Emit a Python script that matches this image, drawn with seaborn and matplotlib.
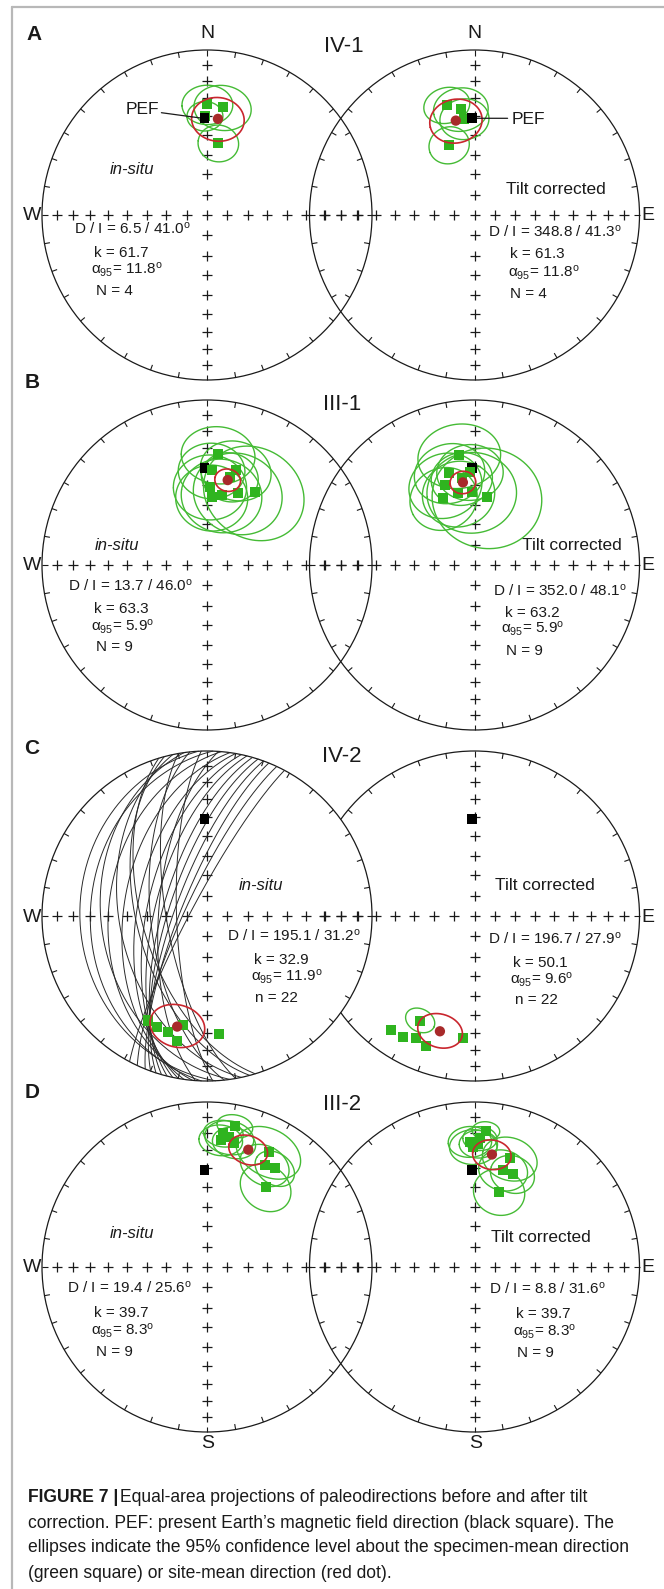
import numpy as np
import matplotlib
matplotlib.use("Agg")
import matplotlib.pyplot as plt
from matplotlib.patches import Circle
from matplotlib import font_manager
import seaborn as sns

sns.set_theme(style="white")
BASE_FONT = "Liberation Sans"
plt.rcParams["font.family"] = [BASE_FONT, "DejaVu Sans"]
plt.rcParams["mathtext.fontset"] = "custom"
plt.rcParams["mathtext.rm"] = BASE_FONT
plt.rcParams["mathtext.it"] = BASE_FONT + ":italic"
plt.rcParams["mathtext.bf"] = BASE_FONT + ":bold"

# ------------------------------------------------------------------ data
panels = ["A", "B", "C", "D"]
sites = ["IV-1", "III-1", "IV-2", "III-2"]

# site-mean directions, in situ and tilt corrected
mean_dec_is = [6.5, 13.7, 195.1, 19.4]
mean_inc_is = [41.0, 46.0, 31.2, 25.6]
mean_dec_tc = [348.8, 352.0, 196.7, 8.8]
mean_inc_tc = [41.3, 48.1, 27.9, 31.6]
k_is = [61.7, 63.3, 32.9, 39.7]
k_tc = [61.3, 63.2, 50.1, 39.7]
a95_is = [11.8, 5.9, 11.9, 8.3]
a95_tc = [11.8, 5.9, 9.6, 8.3]
n_symbol = ["N", "N", "n", "N"]
n_count = [4, 9, 22, 9]

# present Earth's field direction
pef_dec, pef_inc = 358.5, 41.0

# specimen-mean directions (dec, inc, alpha95; nan = no cone drawn)
iv1_is_dec = [0.2, 8.3, 9.0, 358.8]
iv1_is_inc = [33.4, 34.4, 53.7, 39.8]
iv1_is_a95 = [11.0, 12.5, 9.5, 8.0]
iv1_tc_dec = [345.8, 352.6, 340.0, 354.0]
iv1_tc_inc = [31.8, 35.5, 52.8, 41.0]
iv1_tc_a95 = [10.0, 12.0, 9.5, 11.0]

iii1_is_dec = [5.8, 2.8, 17.0, 2.2, 4.0, 11.9, 23.4, 33.2, 14.6]
iii1_is_inc = [33.0, 42.0, 39.6, 50.7, 56.2, 54.3, 50.5, 45.9, 44.0]
iii1_is_a95 = [16, 15, 16, 17, 17, 19, 21, 24, 13]
iii1_tc_dec = [352.0, 344.7, 357.2, 339.8, 334.9, 347.3, 357.8, 10.6, 351.6]
iii1_tc_inc = [33.1, 41.6, 42.8, 47.1, 53.2, 53.3, 53.3, 55.3, 45.9]
iii1_tc_a95 = [18, 16, 15, 17, 16, 17, 21, 26, 14]

iv2_is_dec = [209.3, 204.3, 198.5, 192.6, 193.4, 174.2]
iv2_is_inc = [28.2, 26.9, 27.0, 32.8, 23.3, 28.9]
iv2_is_a95 = [np.nan] * 6
iv2_tc_dec = [216.3, 210.5, 205.7, 207.5, 200.5, 185.2]
iv2_tc_inc = [15.3, 16.1, 19.3, 29.3, 17.0, 26.5]
iv2_tc_a95 = [np.nan, np.nan, np.nan, 6.5, np.nan, np.nan]

iii2_is_dec = [11.2, 6.2, 9.8, 12.3, 7.0, 28.3, 29.6, 34.6, 36.5]
iii2_is_inc = [13.9, 23.6, 21.3, 23.9, 19.5, 21.8, 29.6, 28.2, 39.7]
iii2_is_a95 = [7, 9, 10, 9, 8, 14, 11, 9, 12]
iii2_tc_dec = [4.8, 357.9, 1.8, 359.4, 2.4, 18.1, 16.5, 22.3, 18.2]
iii2_tc_inc = [18.2, 24.9, 26.3, 27.9, 23.0, 31.4, 38.6, 39.0, 50.3]
iii2_tc_a95 = [5.5, 9, 8, 10, 7, 12, 11, 10, 12]

# remagnetization great circles of site IV-2 (in situ): strike azimuth of
# the northern end and dip (dipping to the west of the strike)
gc_strike = [-3, 2, -8, 5, -12, 8, -15, 10, 12, -6, 14, 16, -10, 18, 20, 22, -2, 25, 28, 4, -17]
gc_dip = [24, 30, 36, 40, 46, 48, 55, 55, 60, 62, 64, 68, 70, 71, 74, 77, 75, 79, 82, 66, 58]

caption_lines = [
    "correction. PEF: present Earth\u2019s magnetic field direction (black square). The",
    "ellipses indicate the 95% confidence level about the specimen-mean direction",
    "(green square) or site-mean direction (red dot).",
]

specimens = [
    ((iv1_is_dec, iv1_is_inc, iv1_is_a95), (iv1_tc_dec, iv1_tc_inc, iv1_tc_a95)),
    ((iii1_is_dec, iii1_is_inc, iii1_is_a95), (iii1_tc_dec, iii1_tc_inc, iii1_tc_a95)),
    ((iv2_is_dec, iv2_is_inc, iv2_is_a95), (iv2_tc_dec, iv2_tc_inc, iv2_tc_a95)),
    ((iii2_is_dec, iii2_is_inc, iii2_is_a95), (iii2_tc_dec, iii2_tc_inc, iii2_tc_a95)),
]

# ------------------------------------------------------------------ layout
W_PX, H_PX = 664, 1589
R = 165.0
CX = (207.0, 474.5)
CY = [215.0, 565.0, 916.0, 1267.0]
GREEN = "#2fb41f"
GREEN_LINE = "#45bb35"
RED_DOT = "#a82a2a"
RED_LINE = "#c9262e"
INK = "#1a1a1a"

fig = plt.figure(figsize=(W_PX / 100, H_PX / 100), dpi=100)
ax = fig.add_axes([0, 0, 1, 1])


def project(cx, cy, dec, inc):
    d = np.radians(np.asarray(dec, float))
    i = np.asarray(inc, float)
    r = R * np.sqrt(2.0) * np.sin(np.radians(90.0 - i) / 2.0)
    return cx + r * np.sin(d), cy - r * np.cos(d)


def cart(dec, inc):
    d, i = np.radians(dec), np.radians(inc)
    return np.array([np.cos(i) * np.cos(d), np.cos(i) * np.sin(d), np.sin(i)])


def to_dir(v):
    n, e, dn = v
    dec = np.degrees(np.arctan2(e, n)) % 360
    inc = np.degrees(np.arcsin(np.clip(dn / np.linalg.norm(v, axis=0), -1, 1)))
    return dec, inc


def cone(dec, inc, a95, n=181):
    m = cart(dec, inc)
    ref = np.array([0.0, 0.0, 1.0]) if abs(m[2]) < 0.9 else np.array([1.0, 0.0, 0.0])
    u = np.cross(m, ref)
    u /= np.linalg.norm(u)
    w = np.cross(m, u)
    t = np.linspace(0, 2 * np.pi, n)
    a = np.radians(a95)
    v = np.cos(a) * m[:, None] + np.sin(a) * (np.cos(t) * u[:, None] + np.sin(t) * w[:, None])
    d, i = to_dir(v)
    return d, np.where(i < 0, np.nan, i)


def great_circle(strike, dip, n=181):
    s = cart(strike, 0.0)
    dd = cart(strike - 90.0, dip)
    t = np.linspace(0, np.pi, n)
    v = np.cos(t) * s[:, None] + np.sin(t) * dd[:, None]
    return to_dir(v)


def draw_frame(cx, cy, fill, z):
    ax.add_patch(Circle((cx, cy), R, facecolor="white" if fill else "none",
                        edgecolor=INK, lw=0.9, zorder=z))
    az = np.radians(np.arange(0, 360, 10))
    for a in az:
        ax.plot([cx + R * np.sin(a), cx + (R - 5.5) * np.sin(a)],
                [cy - R * np.cos(a), cy - (R - 5.5) * np.cos(a)],
                color=INK, lw=0.8, zorder=z + 0.1, solid_capstyle="butt")


def draw_crosses(cx, cy):
    incs = np.arange(10, 90, 10)
    xs, ys = [], []
    for d in (0, 90, 180, 270):
        x, y = project(cx, cy, np.full(incs.shape, d), incs)
        xs.extend(x)
        ys.extend(y)
    xs.append(cx)
    ys.append(cy)
    ax.plot(xs, ys, "+", ms=7.8, mew=0.9, color=INK, zorder=3)


def draw_path(xs, ys, color, lw, z):
    sns.lineplot(x=xs, y=ys, sort=False, estimator=None, color=color,
                 linewidth=lw, ax=ax, zorder=z, legend=False)


def draw_data(cx, cy, spec, mdec, minc, ma95, pef_under=False):
    sdec, sinc, sa95 = spec
    for d, i, a in zip(sdec, sinc, sa95):
        if np.isfinite(a):
            cd, ci = cone(d, i, a)
            x, y = project(cx, cy, cd, ci)
            draw_path(x, y, GREEN_LINE, 1.0, 5)
    px, py = project(cx, cy, [pef_dec], [pef_inc])
    sns.scatterplot(x=px, y=py, marker="s", s=50, color="black", edgecolor="none",
                    linewidth=0, ax=ax, zorder=5.5 if pef_under else 9, legend=False)
    x, y = project(cx, cy, sdec, sinc)
    sns.scatterplot(x=x, y=y, marker="s", s=52, color=GREEN, edgecolor="none",
                    linewidth=0, ax=ax, zorder=6, legend=False)
    cd, ci = cone(mdec, minc, ma95)
    x, y = project(cx, cy, cd, ci)
    draw_path(x, y, RED_LINE, 1.2, 7)
    x, y = project(cx, cy, [mdec], [minc])
    sns.scatterplot(x=x, y=y, marker="o", s=55, color=RED_DOT, edgecolor="none",
                    linewidth=0, ax=ax, zorder=8, legend=False)
    return px[0], py[0]


def deg(v):
    return f"{v:.1f}" + r"$^{\rm o}$"


# text anchors per panel: (label position, stats x per row, stats y per row)
left_text = [
    ((132, 170), (74, 93.5, 91, 96), (229, 253, 270, 291)),
    ((117, 545), (68, 93.5, 91, 96), (586, 609, 627, 647)),
    ((261, 886), (227, 254, 250.6, 255), (936, 960, 977, 998)),
    ((131.5, 1233), (67, 94, 91, 96), (1288, 1313, 1331, 1352)),
]
right_text = [
    ((505.5, 189), (488, 510, 508, 510), (232, 254, 273, 294)),
    ((522.5, 545), (493, 505, 501, 506), (591, 613, 629, 651)),
    ((495, 886), (488, 513, 510, 515), (939, 963, 980, 1000)),
    ((490.6, 1237), (489, 516, 513, 517), (1289, 1314, 1332, 1353)),
]
title_pos = [(344, 47), (342, 405), (342, 757), (342, 1105)]
letter_pos = [(34, 35), (32, 383), (32, 748), (32, 1093)]

STAT_FS = 11

for p in range(4):
    cy = CY[p]
    cover = p == 2  # the in-situ net hides the tilt-corrected primitive where they overlap
    draw_frame(CX[1], cy, False, 1)
    draw_frame(CX[0], cy, cover, 2)
    draw_crosses(CX[0], cy)
    draw_crosses(CX[1], cy)

    if p == 2:
        for s, dp in zip(gc_strike, gc_dip):
            gd, gi = great_circle(s, dp)
            x, y = project(CX[0], cy, gd, gi)
            draw_path(x, y, "#2a2a2a", 0.7, 4)

    pef_under = p == 1
    pl = draw_data(CX[0], cy, specimens[p][0], mean_dec_is[p], mean_inc_is[p], a95_is[p], pef_under)
    pr = draw_data(CX[1], cy, specimens[p][1], mean_dec_tc[p], mean_inc_tc[p], a95_tc[p], pef_under)

    if p == 0:
        ax.text(142, 109, "PEF", fontsize=12.5, ha="center", va="center", color=INK, zorder=10)
        ax.plot([161.4, pl[0] - 2], [112.7, pl[1]], color=INK, lw=0.9, zorder=8.5)
        ax.text(528, 120, "PEF", fontsize=12.5, ha="center", va="center", color=INK, zorder=10)
        ax.plot([pr[0] + 2, 507.6], [pr[1], 118.3], color=INK, lw=0.9, zorder=8.5)

    # site name and panel letter
    ax.text(*title_pos[p], sites[p], fontsize=16, ha="center", va="center", color=INK)
    ax.text(*letter_pos[p], panels[p], fontsize=15, fontweight="bold", ha="center",
            va="center", color=INK)
    # compass letters
    ax.text(32, cy + 1, "W", fontsize=14, ha="center", va="center", color=INK)
    ax.text(648, cy + 1, "E", fontsize=14, ha="center", va="center", color=INK)
    if p == 0:
        for cx in CX:
            ax.text(cx, 34, "N", fontsize=14, ha="center", va="center", color=INK)
    if p == 3:
        for cx in CX:
            ax.text(cx + 1, 1443, "S", fontsize=14, ha="center", va="center", color=INK)

    # statistics
    for side, (lab, xs, ys) in enumerate((left_text[p], right_text[p])):
        dec = mean_dec_is[p] if side == 0 else mean_dec_tc[p]
        inc = mean_inc_is[p] if side == 0 else mean_inc_tc[p]
        kk = k_is[p] if side == 0 else k_tc[p]
        aa = a95_is[p] if side == 0 else a95_tc[p]
        if side == 0:
            ax.text(*lab, "in-situ", fontsize=12, style="italic", ha="center", va="center", color=INK)
        else:
            ax.text(*lab, "Tilt corrected", fontsize=12.5, ha="left", va="center", color=INK)
        ax.text(xs[0], ys[0], f"D / I = {dec:.1f} / " + deg(inc), fontsize=STAT_FS,
                ha="left", va="center", color=INK)
        ax.text(xs[1], ys[1], f"k = {kk:.1f}", fontsize=STAT_FS, ha="left", va="center", color=INK)
        ax.text(xs[2], ys[2], r"$\mathrm{\alpha}_{95}$" + "= " + deg(aa), fontsize=STAT_FS,
                ha="left", va="center", color=INK)
        ax.text(xs[3], ys[3], f"{n_symbol[p]} = {n_count[p]}", fontsize=STAT_FS,
                ha="left", va="center", color=INK)

# figure frame
ax.plot([12, 12], [7, H_PX], color="#b8b8b8", lw=1.6, zorder=0)
ax.plot([12, W_PX], [7, 7], color="#b8b8b8", lw=1.6, zorder=0)

# caption
avail = {f.name for f in font_manager.fontManager.ttflist}
cap_font = "Liberation Sans Narrow" if "Liberation Sans Narrow" in avail else BASE_FONT
cap_x = 27.6
cap_y = [1498, 1523, 1548, 1574]
t_head = ax.text(cap_x, cap_y[0], "FIGURE 7 |", fontsize=12, fontweight="bold",
                 family=cap_font, ha="left", va="center", color=INK)
t_rest = ax.annotate("Equal-area projections of paleodirections before and after tilt",
                     xy=(1, 0.5), xycoords=t_head, xytext=(1.5, 0), textcoords="offset points",
                     fontsize=12, family=cap_font, ha="left", va="center", color=INK)
body = [ax.text(cap_x, y, s, fontsize=12, family=cap_font, ha="left", va="center", color=INK)
        for y, s in zip(cap_y[1:], caption_lines)]

ax.set_xlim(0, W_PX)
ax.set_ylim(H_PX, 0)
ax.axis("off")

fig.canvas.draw()
rend = fig.canvas.get_renderer()
width = body[1].get_window_extent(rend).width
scale = (631 - cap_x) / width
for t in [t_head, t_rest] + body:
    t.set_fontsize(12 * scale)

fig.savefig("out.png", dpi=100, facecolor="white")
